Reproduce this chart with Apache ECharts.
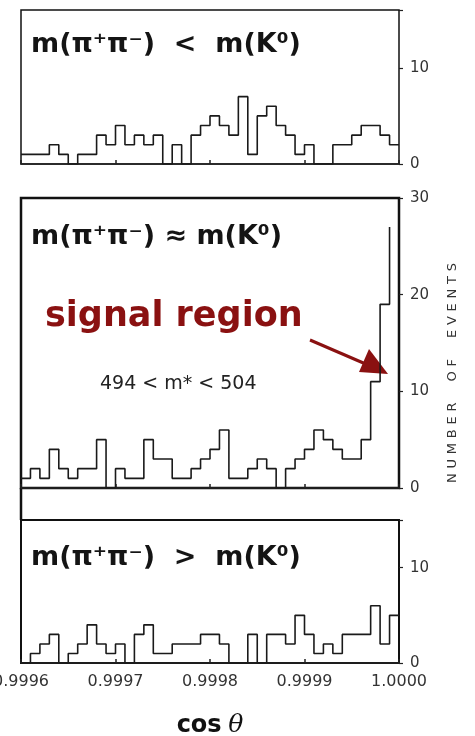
<!DOCTYPE html>
<html>
<head>
<meta charset="utf-8">
<script src="https://cdn.jsdelivr.net/npm/echarts@6/dist/echarts.min.js"></script>
<style>
  html, body { margin: 0; padding: 0; background: #ffffff; }
  #chart { width: 475px; height: 736px; }
</style>
</head>
<body>
<div id="chart"></div>
<script>
// Bin edges in cos(theta) (41 edges -> 40 bins)
const binEdges = [0.99960,0.99961,0.99962,0.99963,0.99964,0.99965,0.99966,0.99967,0.99968,0.99969,
                  0.99970,0.99971,0.99972,0.99973,0.99974,0.99975,0.99976,0.99977,0.99978,0.99979,
                  0.99980,0.99981,0.99982,0.99983,0.99984,0.99985,0.99986,0.99987,0.99988,0.99989,
                  0.99990,0.99991,0.99992,0.99993,0.99994,0.99995,0.99996,0.99997,0.99998,0.99999,
                  1.00000];
// Event counts per bin
const belowCounts  = [1,1,1,2,1,0,1,1,3,2,4,2,3,2,3,0,2,0,3,4,5,4,3,7,1,5,6,4,3,1,2,0,0,2,2,3,4,4,3,2];
const signalCounts = [1,2,1,4,2,1,2,2,5,0,2,1,1,5,3,3,1,1,2,3,4,6,1,1,2,3,2,0,2,3,4,6,5,4,3,3,5,11,19,27];
const aboveCounts  = [0,1,2,3,0,1,2,4,2,1,2,0,3,4,1,1,2,2,2,3,3,2,0,0,3,0,3,3,2,5,3,1,2,1,3,3,3,6,2,5];
// Axis tick labels
const xTickLabels = ['0.9996','0.9997','0.9998','0.9999','1.0000'];
const panelTitles = ['m(π⁺π⁻)  <  m(K⁰)', 'm(π⁺π⁻) ≈ m(K⁰)', 'm(π⁺π⁻)  >  m(K⁰)'];
const panelMax = [16, 30, 15];
const yAxisTitle = 'NUMBER OF EVENTS';

function stepData(counts, closeLast) {
  const pts = counts.map((c, i) => [binEdges[i], c]);
  if (closeLast) pts.push([binEdges[counts.length], counts[counts.length - 1]]);
  return pts;
}

const grids = [
  { left: 21, width: 378, top: 10, height: 154, borderWidth: 1.5 },
  { left: 21, width: 378, top: 198, height: 290, borderWidth: 2.5 },
  { left: 21, width: 378, top: 520, height: 143, borderWidth: 2 }
];

const chart = echarts.init(document.getElementById('chart'), null, { renderer: 'canvas' });

const labelFont = 'DejaVu Sans';
const xAxes = grids.map((g, i) => ({
  type: 'value', gridIndex: i, min: 0.9996, max: 1.0, interval: 0.0001,
  axisLine: { show: true, lineStyle: { color: '#222', width: 1.5 } },
  axisTick: { show: true, inside: true, length: 4, lineStyle: { color: '#222', width: 1.5 } },
  splitLine: { show: false },
  axisLabel: {
    show: i === 2, color: '#333', fontSize: 16, fontFamily: labelFont, margin: 11,
    showMinLabel: true, showMaxLabel: true, hideOverlap: false,
    formatter: (v) => xTickLabels[Math.round((v - 0.9996) / 0.0001)] || ''
  },
  name: i === 2 ? '{a|cos}  {b|θ}' : '',
  nameLocation: 'middle', nameGap: 50,
  nameTextStyle: {
    rich: {
      a: { fontSize: 24, fontWeight: 'bold', color: '#111', fontFamily: 'DejaVu Sans' },
      b: { fontSize: 25, fontStyle: 'italic', color: '#111', fontFamily: 'DejaVu Serif' }
    }
  }
}));

const yAxes = grids.map((g, i) => ({
  type: 'value', gridIndex: i, position: 'right', min: 0, max: panelMax[i], interval: 10,
  axisLine: { show: false },
  axisTick: { show: true, length: 4, lineStyle: { color: '#222', width: 1.2 } },
  splitLine: { show: false },
  axisLabel: {
    color: '#333', fontSize: 15, fontFamily: labelFont, margin: 11,
    formatter: (v) => (v % 10 === 0 ? String(v) : '')
  }
}));

const seriesList = [
  { counts: belowCounts, close: true },
  { counts: signalCounts, close: false },
  { counts: aboveCounts, close: true }
].map((s, i) => ({
  type: 'line', xAxisIndex: i, yAxisIndex: i, step: 'end',
  data: stepData(s.counts, s.close),
  showSymbol: false, symbol: 'none', silent: true,
  lineStyle: { color: '#1a1a1a', width: 1.6 }
}));

const titleTops = [31, 223, 544];
const titles = panelTitles.map((t, i) => ({
  text: t, left: 31, top: titleTops[i], padding: 0,
  textStyle: { fontSize: 27, fontWeight: 'bold', color: '#141414', fontFamily: 'DejaVu Sans' }
}));

// letter-spaced vertical axis title
const spacedTitle = yAxisTitle.split('').map(c => c === ' ' ? '{s| }' : '{l|' + c + '}').join('');

const red = '#8a1111';
chart.setOption({
  animation: false,
  backgroundColor: '#ffffff',
  title: titles,
  grid: grids.map(g => ({ left: g.left, width: g.width, top: g.top, height: g.height,
    outerBoundsMode: 'none', containLabel: false,
    show: true, borderColor: '#111', borderWidth: g.borderWidth, backgroundColor: 'transparent' })),
  xAxis: xAxes,
  yAxis: yAxes,
  series: seriesList,
  graphic: [
    { type: 'line', shape: { x1: 21, y1: 488, x2: 21, y2: 520 }, style: { stroke: '#111', lineWidth: 2.5 } },
    { type: 'text', left: 45, top: 299,
      style: { text: 'signal region', fill: red, font: 'bold 35px "DejaVu Sans"' } },
    { type: 'text', left: 100, top: 375,
      style: { text: '494 < m* < 504', fill: '#222', font: '19px "DejaVu Sans"' } },
    { type: 'line', shape: { x1: 310, y1: 340, x2: 368, y2: 365 }, style: { stroke: red, lineWidth: 3 } },
    { type: 'polygon', shape: { points: [[388, 374], [359, 372], [369, 349]] }, style: { fill: red } },
    { type: 'text', x: 453, y: 373, rotation: Math.PI / 2,
      style: { text: spacedTitle, align: 'center', verticalAlign: 'middle',
        rich: {
          l: { fill: '#333', font: '13px "DejaVu Sans"', padding: [0, 2.4] },
          s: { fill: '#333', font: '13px "DejaVu Sans"', padding: [0, 6] }
        } } }
  ]
});
</script>
</body>
</html>
